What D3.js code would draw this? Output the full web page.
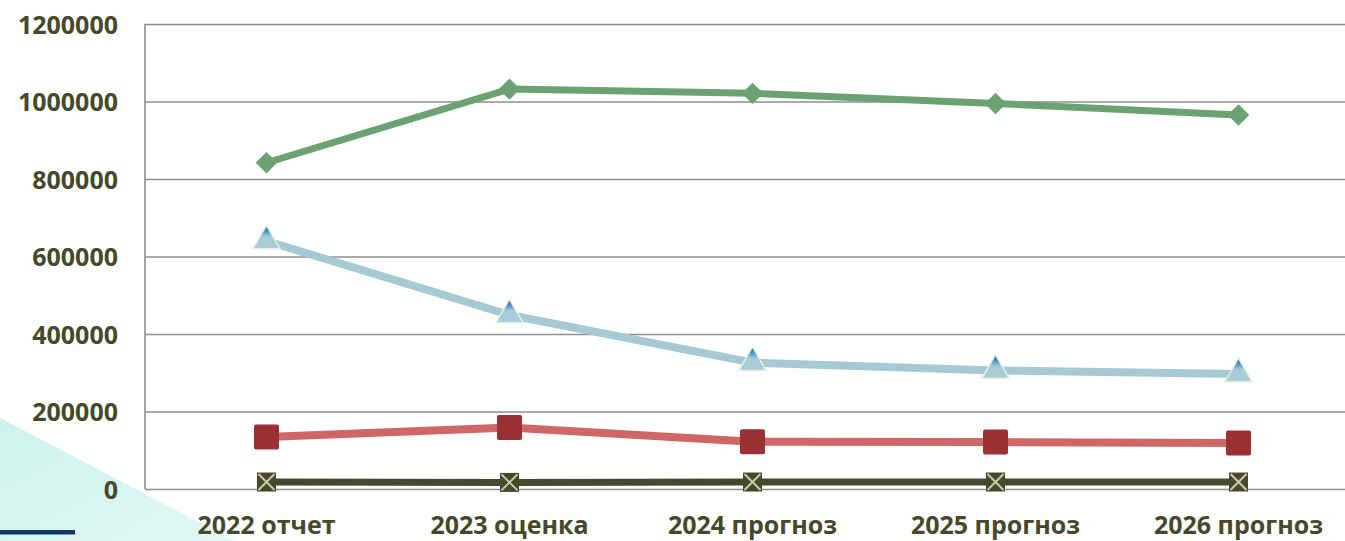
<!DOCTYPE html>
<html>
<head>
<meta charset="utf-8">
<script src="https://cdn.jsdelivr.net/npm/d3@7"></script>
<style>
  html, body { margin: 0; padding: 0; background: #fff; overflow: hidden; }
  svg { display: block; }
  .lbl { font-family: "Open Sans", sans-serif; font-weight: 700; font-size: 25px; fill: #45482a; }
</style>
</head>
<body>
<div id="chart"></div>
<script>
// data
var categories = ["2022 отчет", "2023 оценка", "2024 прогноз", "2025 прогноз", "2026 прогноз"];
var yTicks = [0, 200000, 400000, 600000, 800000, 1000000, 1200000];

var greenValues = [842000, 1032000, 1021000, 995000, 965000];
var blueValues = [640000, 449000, 326000, 306000, 297000];
var redValues = [134000, 158500, 122000, 121000, 119000];
var darkValues = [18000, 17000, 18000, 18000, 18000];

var W = 1345, H = 541;
var margin = { top: 24, left: 145, bottom: 52 },
    plotRight = 1360;  // last band runs off the page, like the original

var svg = d3.select("#chart")
    .append("svg")
    .attr("width", W)
    .attr("height", H);

var defs = svg.append("defs");

// teal corner of the slide background
var bg = defs.append("linearGradient")
    .attr("id", "tealBg")
    .attr("x1", "0").attr("y1", "0").attr("x2", "1").attr("y2", "1");
bg.append("stop").attr("offset", "0%").attr("stop-color", "#cdf2ec");
bg.append("stop").attr("offset", "100%").attr("stop-color", "#e2f8f4");

svg.append("path")
    .attr("d", "M0,418 L235,541 L0,541 Z")
    .attr("fill", "url(#tealBg)");

svg.append("rect")
    .attr("x", 0).attr("y", 530)
    .attr("width", 75).attr("height", 4.5)
    .attr("fill", "#0f3a63");

// triangle marker gradient (blue tip)
var tri = defs.append("linearGradient")
    .attr("id", "triFill")
    .attr("x1", "0").attr("y1", "0").attr("x2", "0").attr("y2", "1");
tri.append("stop").attr("offset", "0%").attr("stop-color", "#1163b3");
tri.append("stop").attr("offset", "25%").attr("stop-color", "#4d92c8");
tri.append("stop").attr("offset", "48%").attr("stop-color", "#a6cbd6");
tri.append("stop").attr("offset", "100%").attr("stop-color", "#a9cdd7");

var x = d3.scaleBand()
    .domain(categories)
    .range([margin.left, plotRight]);

var y = d3.scaleLinear()
    .domain([0, 1200000])
    .range([H - margin.bottom, margin.top]);

function cx(i) { return x(categories[i]) + x.bandwidth() / 2; }

// gridlines + y labels
var yAxis = svg.append("g")
    .attr("transform", "translate(" + margin.left + ",0)")
    .call(d3.axisLeft(y)
        .tickValues(yTicks)
        .tickSize(-(plotRight - margin.left))
        .tickPadding(27)
        .tickFormat(d3.format("d")));
yAxis.select(".domain").remove();
yAxis.selectAll(".tick line")
    .attr("stroke", "#8e8e8e")
    .attr("stroke-width", 1.6);
yAxis.selectAll(".tick text")
    .attr("class", "lbl")
    .attr("dy", "0.36em");

// vertical axis line
svg.append("line")
    .attr("x1", margin.left).attr("x2", margin.left)
    .attr("y1", y(1200000)).attr("y2", y(0))
    .attr("stroke", "#8e8e8e")
    .attr("stroke-width", 1.6);

// category labels
var xAxis = svg.append("g")
    .attr("transform", "translate(0," + y(0) + ")")
    .call(d3.axisBottom(x).tickSize(0).tickPadding(0));
xAxis.select(".domain").remove();
xAxis.selectAll(".tick text")
    .attr("class", "lbl")
    .attr("y", 45)
    .attr("dy", 0);

var line = d3.line()
    .x(function (d, i) { return cx(i); })
    .y(function (d) { return y(d); });

function drawLine(values, color, w) {
    svg.append("path")
        .datum(values)
        .attr("fill", "none")
        .attr("stroke", color)
        .attr("stroke-width", w)
        .attr("stroke-linejoin", "round")
        .attr("d", line);
}

// dark series
drawLine(darkValues, "#464a2b", 7);
var darkM = svg.append("g").selectAll("g")
    .data(darkValues)
    .enter()
    .append("g")
    .attr("transform", function (d, i) { return "translate(" + cx(i) + "," + y(d) + ")"; });
darkM.append("rect")
    .attr("x", -9.5).attr("y", -9.5)
    .attr("width", 19).attr("height", 19)
    .attr("fill", "#464a2b");
darkM.append("path")
    .attr("d", "M-8,-8L8,8M8,-8L-8,8")
    .attr("stroke", "#cbc8b0")
    .attr("stroke-width", 2);

// red series
drawLine(redValues, "#cf6767", 8);
svg.append("g").selectAll("rect")
    .data(redValues)
    .enter()
    .append("rect")
    .attr("x", function (d, i) { return cx(i) - 12.5; })
    .attr("y", function (d) { return y(d) - 12.5; })
    .attr("width", 25).attr("height", 25)
    .attr("rx", 2)
    .attr("fill", "#9b3032");

// light blue series
drawLine(blueValues, "#a5cad4", 8);
svg.append("g").selectAll("path")
    .data(blueValues)
    .enter()
    .append("path")
    .attr("d", d3.symbol(d3.symbolTriangle, 320))
    .attr("transform", function (d, i) { return "translate(" + cx(i) + "," + y(d) + ")"; })
    .attr("fill", "url(#triFill)")
    .attr("stroke", "#e3efdf")
    .attr("stroke-width", 1.5);

// green series
drawLine(greenValues, "#6aa272", 7);
svg.append("g").selectAll("path")
    .data(greenValues)
    .enter()
    .append("path")
    .attr("d", d3.symbol(d3.symbolSquare, 230))
    .attr("transform", function (d, i) { return "translate(" + cx(i) + "," + y(d) + ") rotate(45)"; })
    .attr("fill", "#6aa272");
</script>
</body>
</html>
